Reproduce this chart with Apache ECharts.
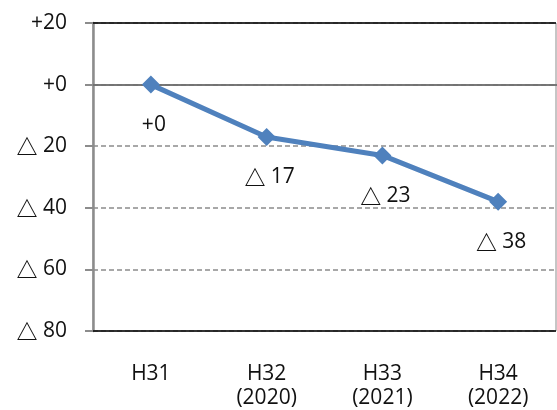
<!DOCTYPE html>
<html>
<head>
<meta charset="utf-8">
<script src="https://cdn.jsdelivr.net/npm/echarts@6/dist/echarts.min.js"></script>
<style>
  html, body { margin: 0; padding: 0; background: #fff; }
  #chart { width: 557px; height: 410px; }
</style>
</head>
<body>
<div id="chart"></div>
<script>
// Fiscal-year categories (two-line labels)
const categories = ['H31', 'H32\n(2020)', 'H33\n(2021)', 'H34\n(2022)'];
// Change from the base year
const changeValues = [0, -17, -23, -38];
// Y-axis range
const yMin = -80;
const yMax = 20;
const yStep = 20;

// "+n" for non-negative, "△ n" for decreases (triangle drawn in a CJK face)
function signedLabel(v) {
  return v >= 0 ? '+' + v : '{tri|△} ' + Math.abs(v);
}

const FONT = '"Open Sans", "Noto Sans", sans-serif';
const richText = {
  tri: { fontFamily: '"Noto Sans CJK JP", sans-serif', fontSize: 21, fontWeight: 'bold', color: '#111' }
};

const chart = echarts.init(document.getElementById('chart'), null, { renderer: 'canvas' });
chart.setOption({
  animation: false,
  backgroundColor: '#fff',
  grid: {
    left: 93, right: 1, top: 23, bottom: 79,
    show: true, borderColor: '#8c8c8c', borderWidth: 1
  },
  xAxis: {
    type: 'category',
    data: categories,
    boundaryGap: true,
    axisLine: { lineStyle: { color: '#000', width: 1.5 } },
    axisTick: { show: false },
    axisLabel: {
      color: '#111', fontFamily: FONT, fontSize: 21, lineHeight: 24,
      margin: 31
    }
  },
  yAxis: {
    type: 'value',
    min: yMin, max: yMax, interval: yStep,
    axisLine: { show: true, lineStyle: { color: '#8c8c8c', width: 2.5 } },
    axisTick: { show: true, length: 8, lineStyle: { color: '#8c8c8c', width: 2 } },
    axisLabel: {
      color: '#111', fontFamily: FONT, fontSize: 21, margin: 26,
      formatter: signedLabel,
      rich: richText
    },
    splitLine: { lineStyle: { color: '#8c8c8c', width: 1.5, type: [5, 3] } }
  },
  series: [{
    type: 'line',
    data: changeValues,
    symbol: 'diamond',
    symbolSize: 18,
    itemStyle: { color: '#4F81BD' },
    lineStyle: { color: '#4F81BD', width: 5 },
    label: {
      show: true,
      position: 'bottom',
      distance: 21,
      offset: [3, 0],
      color: '#111', fontFamily: FONT, fontSize: 21,
      formatter: p => signedLabel(p.value),
      rich: richText
    },
    markLine: {
      silent: true,
      symbol: 'none',
      label: { show: false },
      data: [
        { yAxis: yMax, lineStyle: { color: '#000', width: 1.5, type: 'solid' } },
        { yAxis: 0, lineStyle: { color: '#8c8c8c', width: 1.5, type: 'solid' } },
        { yAxis: yMin, lineStyle: { color: '#000', width: 1.5, type: 'solid' } }
      ]
    },
    z: 5
  }]
});
</script>
</body>
</html>
